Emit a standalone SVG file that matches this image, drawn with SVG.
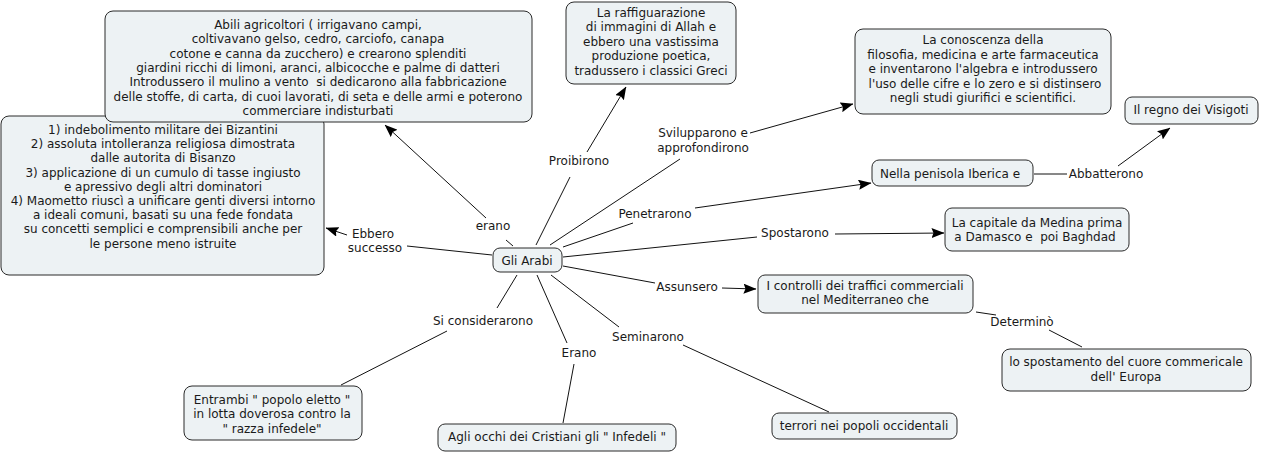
<svg xmlns="http://www.w3.org/2000/svg" width="1261" height="453" viewBox="0 0 1261 453">
<defs>
<style>
.n rect{fill:#edf2f4;stroke:#2a2a2a;stroke-width:1}
text{font-family:"DejaVu Sans",Verdana,sans-serif;font-size:12px;fill:#1a1a1a;text-anchor:middle}
.c line{stroke:#111;stroke-width:1;fill:none}
.a{marker-end:url(#arr)}
</style>
<marker id="arr" viewBox="0 0 13 10" refX="12.5" refY="5" markerWidth="13" markerHeight="10" orient="auto" markerUnits="userSpaceOnUse"><path d="M0,0 L13,5 L0,10 L2,5 z" fill="#000"/></marker>
</defs>
<rect width="1261" height="453" fill="#fff"/>
<g class="c" id="connectors">
<line x1="513" y1="246" x2="506" y2="240"/>
<line class="a" x1="486" y1="218" x2="385" y2="125"/>
<line x1="536" y1="245" x2="570" y2="177"/>
<line class="a" x1="587" y1="152" x2="626" y2="87"/>
<line x1="550" y1="245" x2="680" y2="159"/>
<line class="a" x1="750" y1="133" x2="853" y2="104"/>
<line x1="563" y1="247" x2="633" y2="223"/>
<line class="a" x1="695" y1="208" x2="871" y2="183"/>
<line x1="563" y1="257" x2="757" y2="237"/>
<line class="a" x1="835" y1="234" x2="944" y2="233"/>
<line x1="563" y1="266" x2="655" y2="283"/>
<line class="a" x1="722" y1="288" x2="756" y2="289"/>
<line x1="492" y1="255" x2="407" y2="246"/>
<line class="a" x1="347" y1="235" x2="326" y2="228"/>
<line x1="1034" y1="174" x2="1067" y2="174"/>
<line class="a" x1="1118" y1="166" x2="1170" y2="128"/>
<line x1="976" y1="312" x2="996" y2="315"/>
<line x1="1049" y1="330" x2="1082" y2="347"/>
<line x1="551" y1="275" x2="619" y2="327"/>
<line x1="683" y1="345" x2="829" y2="412"/>
<line x1="537" y1="275" x2="567" y2="343"/>
<line x1="574" y1="364" x2="563" y2="423"/>
<line x1="517" y1="275" x2="497" y2="308"/>
<line x1="447" y1="331" x2="341" y2="385"/>
</g>
<g id="labels">
<text x="493" y="230">erano</text>
<text x="579" y="165">Proibirono</text>
<text x="703" y="137">Svilupparono e</text>
<text x="703" y="152">approfondirono</text>
<text x="655" y="218">Penetrarono</text>
<text x="795" y="237">Spostarono</text>
<text x="373" y="238">Ebbero</text>
<text x="375" y="252">successo</text>
<text x="687" y="291">Assunsero</text>
<text x="1106" y="178">Abbatterono</text>
<text x="1022" y="326">Determinò</text>
<text x="483" y="325">Si considerarono</text>
<text x="579" y="357">Erano</text>
<text x="648" y="341">Seminarono</text>
</g>
<g class="n" id="n-cause">
<rect x="1" y="116" width="323" height="159" rx="8"/>
<text x="163" y="134">1) indebolimento militare dei Bizantini</text>
<text x="163" y="148.2">2) assoluta intolleranza religiosa dimostrata</text>
<text x="163" y="162.4">dalle autorita di Bisanzo</text>
<text x="163" y="176.6">3) applicazione di un cumulo di tasse ingiusto</text>
<text x="163" y="190.8">e apressivo degli altri dominatori</text>
<text x="163" y="205">4) Maometto riuscì a unificare genti diversi intorno</text>
<text x="163" y="219.2">a ideali comuni, basati su una fede fondata</text>
<text x="163" y="233.4">su concetti semplici e comprensibili anche per</text>
<text x="163" y="247.6">le persone meno istruite</text>
</g>
<g class="n" id="n-agricoltori">
<rect x="105" y="11" width="427" height="111" rx="8"/>
<text x="318" y="29">Abili agricoltori ( irrigavano campi,</text>
<text x="318" y="43.3">coltivavano gelso, cedro, carciofo, canapa</text>
<text x="318" y="57.6">cotone e canna da zucchero) e crearono splenditi</text>
<text x="318" y="71.9">giardini ricchi di limoni, aranci, albicocche e palme di datteri</text>
<text x="318" y="86.2" xml:space="preserve">Introdussero il mulino a vento  si dedicarono alla fabbricazione</text>
<text x="318" y="100.5">delle stoffe, di carta, di cuoi lavorati, di seta e delle armi e poterono</text>
<text x="318" y="114.8">commerciare indisturbati</text>
</g>
<g class="n" id="n-raffigurazione">
<rect x="566" y="2" width="170" height="82" rx="8"/>
<text x="651" y="17">La raffiguarazione</text>
<text x="651" y="31.4">di immagini di Allah e</text>
<text x="651" y="45.8">ebbero una vastissima</text>
<text x="651" y="60.2">produzione poetica,</text>
<text x="651" y="74.6">tradussero i classici Greci</text>
</g>
<g class="n" id="n-conoscenza">
<rect x="855" y="29" width="256" height="85" rx="8"/>
<text x="983" y="44">La conoscenza della</text>
<text x="983" y="58.5">filosofia, medicina e arte farmaceutica</text>
<text x="983" y="73">e inventarono l'algebra e introdussero</text>
<text x="985" y="87.5">l'uso delle cifre e lo zero e si distinsero</text>
<text x="983" y="102">negli studi giurifici e scientifici.</text>
</g>
<g class="n" id="n-visigoti">
<rect x="1125" y="97" width="133" height="27" rx="7"/>
<text x="1191" y="114">Il regno dei Visigoti</text>
</g>
<g class="n" id="n-iberica">
<rect x="872" y="160" width="161" height="26" rx="7"/>
<text x="950" y="178">Nella penisola Iberica e</text>
</g>
<g class="n" id="n-capitale">
<rect x="945" y="208" width="184" height="43" rx="7"/>
<text x="1037" y="227">La capitale da Medina prima</text>
<text x="1035" y="241" xml:space="preserve">a Damasco e  poi Baghdad</text>
</g>
<g class="n" id="n-arabi">
<rect x="493" y="248" width="69" height="24" rx="7"/>
<text x="527" y="264.5">Gli Arabi</text>
</g>
<g class="n" id="n-controlli">
<rect x="758" y="275" width="215" height="38" rx="7"/>
<text x="865" y="289.5">I controlli dei traffici commerciali</text>
<text x="865" y="304">nel Mediterraneo che</text>
</g>
<g class="n" id="n-spostamento">
<rect x="1002" y="349" width="249" height="42" rx="8"/>
<text x="1126" y="366">lo spostamento del cuore commericale</text>
<text x="1126" y="381">dell' Europa</text>
</g>
<g class="n" id="n-terrori">
<rect x="772" y="413" width="185" height="26" rx="7"/>
<text x="864" y="430">terrori nei popoli occidentali</text>
</g>
<g class="n" id="n-infedeli">
<rect x="438" y="424" width="238" height="27" rx="7"/>
<text x="557" y="441">Agli occhi dei Cristiani gli " Infedeli "</text>
</g>
<g class="n" id="n-entrambi">
<rect x="184" y="386" width="178" height="54" rx="8"/>
<text x="272" y="404">Entrambi " popolo eletto "</text>
<text x="272" y="418">in lotta doverosa contro la</text>
<text x="272" y="433">" razza infedele"</text>
</g>
</svg>
